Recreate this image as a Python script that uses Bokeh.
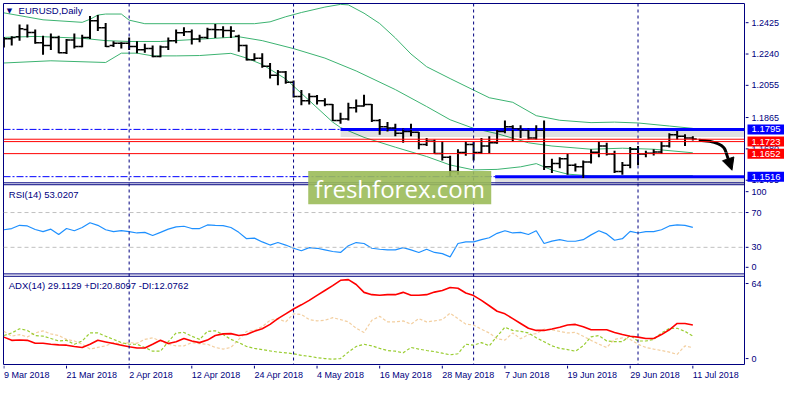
from bokeh.plotting import figure
from bokeh.layouts import column, row
from bokeh.models import Range1d, Span, Label, BoxAnnotation, Arrow, NormalHead
from bokeh.core.properties import value
from bokeh.embed import file_html
from bokeh.resources import INLINE

# EURUSD daily bars, bar 0 = 9 Mar 2018 ... bar 88 = 11 Jul 2018
opens = [1.2310, 1.2330, 1.2342, 1.2385, 1.2367, 1.2306, 1.2291, 1.2338, 1.2248, 1.2323,
         1.2285, 1.2338, 1.2436, 1.2395, 1.2290, 1.2304, 1.2304, 1.2285, 1.2265, 1.2272,
         1.2225, 1.2282, 1.2319, 1.2366, 1.2372, 1.2328, 1.2338, 1.2385, 1.2383, 1.2379,
         1.2345, 1.2291, 1.2206, 1.2215, 1.2168, 1.2115, 1.2134, 1.2074, 1.1989, 1.1964,
         1.1989, 1.1964, 1.1942, 1.1847, 1.1857, 1.1923, 1.1933, 1.1942, 1.1848, 1.1810,
         1.1804, 1.1772, 1.1782, 1.1778, 1.1706, 1.1725, 1.1653, 1.1631, 1.1546, 1.1659,
         1.1706, 1.1659, 1.1697, 1.1716, 1.1782, 1.1810, 1.1797, 1.1791, 1.1744, 1.1791,
         1.1574, 1.1593, 1.1622, 1.1584, 1.1574, 1.1603, 1.1660, 1.1697, 1.1650, 1.1546,
         1.1584, 1.1678, 1.1650, 1.1654, 1.1662, 1.1697, 1.1763, 1.1754, 1.1744]
highs = [1.2340, 1.2345, 1.2414, 1.2414, 1.2385, 1.2348, 1.2361, 1.2348, 1.2329, 1.2361,
         1.2353, 1.2465, 1.2470, 1.2423, 1.2316, 1.2310, 1.2338, 1.2316, 1.2301, 1.2291,
         1.2291, 1.2338, 1.2385, 1.2398, 1.2385, 1.2353, 1.2395, 1.2417, 1.2404, 1.2404,
         1.2353, 1.2295, 1.2244, 1.2244, 1.2187, 1.2145, 1.2140, 1.2083, 1.2027, 1.2008,
         1.1998, 1.1979, 1.1945, 1.1894, 1.1952, 1.1971, 1.1999, 1.1945, 1.1857, 1.1838,
         1.1829, 1.1801, 1.1829, 1.1780, 1.1744, 1.1735, 1.1725, 1.1640, 1.1678, 1.1725,
         1.1721, 1.1744, 1.1754, 1.1791, 1.1848, 1.1820, 1.1820, 1.1801, 1.1820, 1.1848,
         1.1622, 1.1631, 1.1650, 1.1593, 1.1612, 1.1678, 1.1722, 1.1716, 1.1669, 1.1603,
         1.1691, 1.1697, 1.1669, 1.1678, 1.1725, 1.1773, 1.1786, 1.1767, 1.1754]
lows = [1.2278, 1.2290, 1.2319, 1.2338, 1.2301, 1.2235, 1.2263, 1.2244, 1.2240, 1.2272,
        1.2280, 1.2329, 1.2376, 1.2282, 1.2282, 1.2272, 1.2263, 1.2244, 1.2248, 1.2221,
        1.2221, 1.2263, 1.2304, 1.2347, 1.2296, 1.2310, 1.2328, 1.2334, 1.2338, 1.2334,
        1.2253, 1.2202, 1.2200, 1.2159, 1.2096, 1.2055, 1.2064, 1.1983, 1.1938, 1.1942,
        1.1942, 1.1932, 1.1844, 1.1828, 1.1848, 1.1895, 1.1930, 1.1838, 1.1763, 1.1782,
        1.1754, 1.1716, 1.1754, 1.1678, 1.1697, 1.1650, 1.1612, 1.1514, 1.1527, 1.1640,
        1.1612, 1.1650, 1.1653, 1.1710, 1.1772, 1.1725, 1.1744, 1.1735, 1.1735, 1.1556,
        1.1537, 1.1565, 1.1527, 1.1546, 1.1508, 1.1593, 1.1631, 1.1641, 1.1537, 1.1527,
        1.1565, 1.1584, 1.1631, 1.1641, 1.1650, 1.1688, 1.1735, 1.1697, 1.1729]
closes = [1.2330, 1.2338, 1.2389, 1.2367, 1.2306, 1.2291, 1.2338, 1.2248, 1.2323, 1.2285,
          1.2338, 1.2436, 1.2395, 1.2285, 1.2304, 1.2304, 1.2285, 1.2265, 1.2272, 1.2225,
          1.2282, 1.2319, 1.2366, 1.2372, 1.2328, 1.2338, 1.2385, 1.2383, 1.2379, 1.2376,
          1.2291, 1.2206, 1.2215, 1.2168, 1.2115, 1.2134, 1.2074, 1.1989, 1.1964, 1.1989,
          1.1964, 1.1942, 1.1847, 1.1857, 1.1923, 1.1933, 1.1942, 1.1848, 1.1810, 1.1804,
          1.1772, 1.1782, 1.1778, 1.1706, 1.1725, 1.1653, 1.1631, 1.1546, 1.1659, 1.1706,
          1.1659, 1.1697, 1.1716, 1.1782, 1.1810, 1.1797, 1.1791, 1.1744, 1.1791, 1.1574,
          1.1593, 1.1622, 1.1584, 1.1574, 1.1603, 1.1660, 1.1697, 1.1650, 1.1546, 1.1584,
          1.1678, 1.1650, 1.1654, 1.1662, 1.1697, 1.1763, 1.1754, 1.1744, 1.1739]
bars = list(range(len(closes)))

# Bollinger bands, read at some bars
bb_up_idx = [0, 5, 10, 11, 12, 13, 15, 16, 18, 32, 34, 36, 38, 41, 43, 44, 46, 48, 50, 52,
             54, 57, 60, 62, 65, 68, 71, 75, 78, 81, 85, 88]
bb_up = [1.2483, 1.2442, 1.2427, 1.2445, 1.2470, 1.2476, 1.2476, 1.2440, 1.2419, 1.2419,
         1.2430, 1.2460, 1.2485, 1.2517, 1.2533, 1.2530, 1.2481, 1.2420, 1.2335, 1.2240,
         1.2165, 1.2095, 1.2027, 1.1982, 1.1955, 1.1876, 1.1849, 1.1835, 1.1838, 1.1833,
         1.1815, 1.1801]
bb_mid_idx = [0, 4, 10, 13, 16, 20, 27, 30, 33, 37, 41, 45, 50, 54, 57, 60, 63, 67, 70, 75,
              79, 83, 88]
bb_mid = [1.2338, 1.2344, 1.2333, 1.2319, 1.2314, 1.2314, 1.2333, 1.2342, 1.2319, 1.2272,
          1.2216, 1.2140, 1.2030, 1.1930, 1.1852, 1.1801, 1.1770, 1.1716, 1.1697, 1.1678,
          1.1684, 1.1678, 1.1657]
bb_lo_idx = [0, 6, 13, 15, 17, 19, 22, 25, 29, 31, 33, 36, 38, 40, 42, 43, 46, 50, 54, 57,
             60, 63, 66, 68, 70, 72, 75, 80, 88]
bb_lo = [1.2187, 1.2200, 1.2190, 1.2245, 1.2245, 1.2229, 1.2229, 1.2231, 1.2244, 1.2216,
         1.2178, 1.2093, 1.2008, 1.1923, 1.1838, 1.1806, 1.1748, 1.1690, 1.1635, 1.1585,
         1.1556, 1.1559, 1.1574, 1.1593, 1.1555, 1.1531, 1.1521, 1.1520, 1.1522]

rsi = [50.2, 51.6, 55.3, 54.6, 50.5, 48.0, 50.9, 44.7, 51.6, 49.1,
       52.8, 58.3, 55.3, 50.2, 48.0, 49.1, 48.0, 46.5, 47.2, 43.6,
       47.2, 50.9, 53.5, 54.2, 51.6, 51.6, 55.7, 55.3, 55.0, 52.8,
       47.2, 39.9, 40.6, 36.2, 32.6, 35.5, 32.6, 28.9, 26.0, 29.6,
       28.9, 27.1, 25.2, 24.1, 31.8, 35.5, 34.4, 28.9, 27.8, 27.1,
       27.1, 29.6, 27.1, 24.1, 27.8, 24.1, 22.7, 19.0, 34.4, 36.2,
       36.2, 38.8, 41.0, 46.1, 49.1, 46.5, 47.2, 44.7, 49.1, 34.4,
       37.2, 38.8, 37.0, 37.0, 38.8, 44.3, 49.1, 45.4, 38.1, 39.9,
       48.3, 46.5, 48.0, 48.0, 50.2, 54.6, 55.7, 55.3, 53.0]
adx = [20.0, 17.6, 17.8, 17.6, 15.4, 15.4, 14.7, 14.2, 14.0, 13.0,
       12.3, 14.7, 17.6, 16.4, 15.2, 14.0, 12.8, 11.9, 11.9, 14.7,
       17.6, 15.2, 16.6, 19.0, 17.1, 15.9, 17.8, 21.2, 22.4, 22.6,
       21.2, 21.9, 24.3, 26.2, 29.5, 33.8, 37.4, 41.0, 44.1, 47.4,
       51.2, 54.8, 58.4, 62.4, 62.9, 59.3, 53.4, 51.7, 51.2, 51.7,
       51.7, 53.4, 51.2, 51.2, 51.7, 53.6, 54.8, 57.0, 56.5, 52.9,
       51.0, 47.4, 43.4, 39.3, 37.4, 33.8, 30.2, 26.6, 25.0, 25.0,
       26.0, 27.4, 29.0, 29.5, 27.8, 25.5, 25.5, 25.5, 23.5, 21.9,
       20.7, 20.0, 19.0, 19.0, 21.9, 25.5, 30.2, 30.2, 29.1]
plus_di = [21.2, 23.1, 26.2, 25.0, 21.2, 20.7, 19.0, 17.1, 17.6, 14.7,
           17.1, 23.1, 23.1, 20.7, 18.3, 15.9, 14.7, 14.7, 12.3, 9.5,
           9.5, 16.6, 23.1, 23.5, 20.7, 18.3, 24.3, 24.7, 21.9, 18.3,
           15.9, 13.0, 11.6, 10.7, 9.7, 8.8, 8.3, 7.6, 6.4, 5.7,
           4.7, 4.0, 3.5, 4.0, 8.8, 13.0, 14.7, 13.5, 11.6, 10.0,
           9.5, 8.3, 12.3, 11.1, 10.0, 9.2, 8.0, 6.8, 7.6, 14.7,
           14.0, 15.9, 13.5, 20.7, 27.4, 25.0, 24.3, 23.1, 19.5, 16.6,
           13.5, 11.6, 10.7, 9.5, 13.5, 20.2, 21.2, 17.1, 16.6, 16.6,
           21.2, 17.1, 17.1, 18.3, 23.1, 26.6, 26.6, 24.3, 20.8]
minus_di = [24.3, 20.7, 21.9, 20.2, 23.1, 24.7, 22.4, 21.2, 18.3, 17.1,
            14.7, 11.1, 12.3, 13.5, 15.9, 14.7, 15.9, 15.4, 18.3, 19.5,
            17.1, 14.7, 13.5, 13.5, 15.9, 15.2, 14.7, 12.3, 11.1, 12.3,
            18.3, 24.3, 25.0, 27.8, 32.6, 33.8, 31.4, 37.4, 36.9, 33.1,
            32.1, 32.6, 34.5, 33.1, 31.4, 26.6, 23.5, 32.6, 35.5, 31.4,
            31.4, 32.1, 29.7, 33.8, 31.4, 32.1, 33.1, 37.9, 33.8, 29.7,
            29.0, 25.9, 23.1, 18.8, 17.8, 23.1, 18.8, 21.9, 22.6, 25.9,
            25.5, 24.3, 23.1, 23.5, 20.7, 17.6, 14.7, 12.3, 18.3, 19.5,
            18.3, 14.7, 12.3, 11.1, 10.0, 8.8, 7.1, 13.5, 12.1]

date_idx = [0, 8, 16, 24, 32, 40, 48, 56, 64, 72, 80, 88]
date_labels = ["9 Mar 2018", "21 Mar 2018", "2 Apr 2018", "12 Apr 2018", "24 Apr 2018",
               "4 May 2018", "16 May 2018", "28 May 2018", "7 Jun 2018", "19 Jun 2018",
               "29 Jun 2018", "11 Jul 2018"]
month_starts = [16, 37, 60, 81]

price_ticks = [1.2425, 1.2240, 1.2055, 1.1865, 1.1680, 1.1495]
price_tick_labels = ["1.2425", "1.2240", "1.2055", "1.1865", "1.1680", "1.1495"]
rsi_ticks = [94, 70, 30, 7]            # MT4 pulls the 100 / 0 labels inside the panel
rsi_tick_labels = ["100", "70", "30", "0"]
adx_ticks = [60, 4]
adx_tick_labels = ["64", "0"]

blue_levels = [1.1795, 1.1516]
blue_from = [43, 62.75]          # bar where the thick blue line starts
red_levels = [1.1737, 1.1723, 1.1652]
tag_levels = [1.1795, 1.1723, 1.1652, 1.1516]
tag_labels = ["1.1795", "1.1723", "1.1652", "1.1516"]
tag_colors = ["#0000FF", "#FF0000", "#FF0000", "#0000FF"]

# curved arrow (bar index, price): start, control1, control2, end, then head tip
arrow_x = [88.75, 90.9, 92.1, 92.25, 93.0]
arrow_y = [1.1731, 1.1727, 1.1700, 1.1658, 1.1554]

NAVY = "#000080"
FONT = "Liberation Sans"
GREEN = "#3CB371"

X0, X1 = -0.05, 94.6
# sub-panels: picture px of sub-frame top, bottom and the values there
MAIN = (3.0, 190.0, 1.25382, 1.14798)
RSI_P = (192.0, 285.0, 101.98, -0.55)
ADX_P = (287.5, 379.5, 65.4, -0.43)
FT, FB = 3.0, 379.5          # whole frame, picture px
FRAME_H = 361
SIDE_W = 39


def xv(px):
    return (px - 3.0) / 8.0


def yv(panel, py):
    top, bot, vt, vb = panel
    return vt + (py - top) / (bot - top) * (vb - vt)


def full_range(panel):
    return Range1d(yv(panel, FB), yv(panel, FT))


xr = Range1d(X0, X1)
main_rng = full_range(MAIN)
extra = {"rsi": full_range(RSI_P), "adx": full_range(ADX_P)}


def bare(fig):
    fig.grid.visible = False
    fig.background_fill_color = "white"
    fig.border_fill_color = "white"
    return fig


def text(fig, x, y, s, size="9.5px", color=NAVY, align="left", font=FONT, rng="default"):
    fig.add_layout(Label(x=x, y=y, text=s, text_font=font, text_font_size=size,
                         text_color=color, text_align=align, text_baseline="middle",
                         y_range_name=rng))


p = figure(width=745, height=FRAME_H + 4, x_range=xr, y_range=main_rng,
           extra_y_ranges=extra, output_backend="svg", toolbar_location=None,
           x_axis_location=None, y_axis_location=None,
           min_border_left=3, min_border_right=1, min_border_top=3, min_border_bottom=1)
bare(p)
p.outline_line_color = NAVY
p.outline_line_alpha = 1.0

for m in month_starts:
    p.add_layout(Span(location=m, dimension="height", line_color=NAVY,
                      line_dash="3 3", line_width=1))
# borders between the three sub-panels
for py in [190.0, 192.0, 285.0, 287.5]:
    p.add_layout(Span(location=yv(MAIN, py), dimension="width", line_color=NAVY,
                      line_width=1))

# ---------------- price sub-panel
px_price = (main_rng.end - main_rng.start) / FRAME_H

p.line(bb_up_idx, bb_up, color=GREEN, line_width=1)
p.line(bb_mid_idx, bb_mid, color=GREEN, line_width=1)
p.line(bb_lo_idx, bb_lo, color=GREEN, line_width=1)

for lv, x_start in zip(blue_levels, blue_from):
    p.add_layout(Span(location=lv, dimension="width", line_color="#0000FF",
                      line_dash="7 2 2 2", line_width=1))
    p.segment(x0=[x_start], y0=[lv - 4 * px_price], x1=[X1], y1=[lv - 4 * px_price],
              line_color="black", line_alpha=0.12, line_width=7)
    p.segment(x0=[x_start], y0=[lv], x1=[X1], y1=[lv], line_color="#0000FF", line_width=3)
for lv in red_levels:
    p.add_layout(Span(location=lv, dimension="width", line_color="#FF0000", line_width=1))

p.segment(x0=bars, y0=lows, x1=bars, y1=highs, line_color="black", line_width=2)
p.segment(x0=[b - 0.5 for b in bars], y0=opens, x1=bars, y1=opens,
          line_color="black", line_width=1.5)
p.segment(x0=bars, y0=closes, x1=[b + 0.5 for b in bars], y1=closes,
          line_color="black", line_width=1.5)

p.bezier(x0=[arrow_x[0]], y0=[arrow_y[0]], cx0=[arrow_x[1]], cy0=[arrow_y[1]],
         cx1=[arrow_x[2]], cy1=[arrow_y[2]], x1=[arrow_x[3]], y1=[arrow_y[3]],
         line_color="black", line_width=3)
p.add_layout(Arrow(end=NormalHead(size=12, fill_color="black", line_color="black"),
                   x_start=arrow_x[3], y_start=arrow_y[3], x_end=arrow_x[4], y_end=arrow_y[4],
                   line_color="black", line_width=3))

text(p, xv(6), yv(MAIN, 10.5), "\u25bc", size="7px", font="DejaVu Sans")
text(p, xv(18), yv(MAIN, 10.7), "EURUSD,Daily")

# ---------------- RSI sub-panel
for lv in [70, 30]:
    p.add_layout(Span(location=lv, dimension="width", line_color="#C0C0C0",
                      line_dash="4 3", line_width=1, y_range_name="rsi"))
p.line(bars, rsi, color="#1E90FF", line_width=1.2, y_range_name="rsi")
text(p, xv(8), yv(RSI_P, 201.7), "RSI(14) 53.0207", rng="rsi")

# ---------------- ADX sub-panel
p.line(bars, minus_di, color="#F3CFA0", line_width=1.2, line_dash="3 2", y_range_name="adx")
p.line(bars, plus_di, color="#9ACD32", line_width=1.2, line_dash="3 2", y_range_name="adx")
p.line(bars, adx, color="#FF0000", line_width=1.6, y_range_name="adx")
text(p, xv(8), yv(ADX_P, 297), "ADX(14) 29.1129 +DI:20.8097 -DI:12.0762", rng="adx")

# ---------------- watermark
p.add_layout(BoxAnnotation(left=xv(314), right=xv(501),
                           top=yv(MAIN, 177.7), bottom=yv(MAIN, 212.3),
                           fill_color="#9BBB59", fill_alpha=0.9, line_color=None))
text(p, xv(407.5), yv(MAIN, 195.5), "freshforex.com", size="24px",
     color="white", align="center", font="Open Sans")

# ---------------- price scale on the right
s = figure(width=SIDE_W, height=FRAME_H + 4, x_range=Range1d(0, SIDE_W), y_range=main_rng,
           extra_y_ranges=extra, output_backend="svg", toolbar_location=None,
           x_axis_location=None, y_axis_location=None,
           min_border_left=0, min_border_right=0, min_border_top=3, min_border_bottom=1)
bare(s)
s.outline_line_color = None
for ticks, labels, rng in [(price_ticks, price_tick_labels, "default"),
                           (rsi_ticks, rsi_tick_labels, "rsi"),
                           (adx_ticks, adx_tick_labels, "adx")]:
    s.segment(x0=[0] * len(ticks), y0=ticks, x1=[3] * len(ticks), y1=ticks,
              line_color=NAVY, line_width=1, y_range_name=rng)
    s.text(x=[6] * len(ticks), y=ticks, text=labels, text_font=value(FONT),
           text_font_size="9px", text_color=NAVY, text_baseline="middle",
           text_align="left", y_range_name=rng)
half = 5 * px_price
s.quad(left=[2] * len(tag_levels), right=[SIDE_W] * len(tag_levels),
       bottom=[v - half for v in tag_levels], top=[v + half for v in tag_levels],
       fill_color=tag_colors, line_color=None)
s.text(x=[6] * len(tag_levels), y=tag_levels, text=tag_labels, text_font=value(FONT),
       text_font_size="9.5px", text_color="white", text_baseline="middle", text_align="left")

# ---------------- date strip
d = figure(width=745, height=19, x_range=xr, y_range=Range1d(0, 19),
           output_backend="svg", toolbar_location=None,
           x_axis_location=None, y_axis_location=None,
           min_border_left=3, min_border_right=1, min_border_top=0, min_border_bottom=0)
bare(d)
d.outline_line_color = None
d.segment(x0=date_idx, y0=[19] * len(date_idx), x1=date_idx, y1=[16] * len(date_idx),
          line_color=NAVY, line_width=1)
d.text(x=date_idx, y=[10] * len(date_idx), text=date_labels, text_font=value(FONT),
       text_font_size="9px", text_color=NAVY, text_baseline="middle", text_align="left")

layout = column(row(p, s, spacing=0), d, spacing=0)
open("out.html", "w").write(file_html(layout, INLINE))
